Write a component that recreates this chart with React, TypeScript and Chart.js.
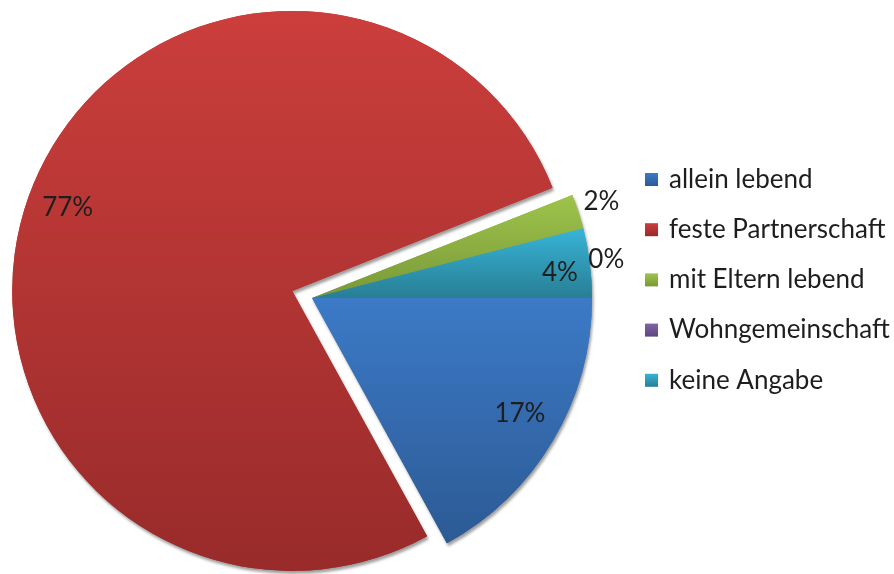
import React, { useEffect, useRef } from "react";
import { Chart, registerables } from "chart.js";

Chart.register(...registerables);

const CATEGORIES = [
  "allein lebend",
  "feste Partnerschaft",
  "mit Eltern lebend",
  "Wohngemeinschaft",
  "keine Angabe",
];
const VALUES = [17, 77, 2, 0, 4];
const VALUE_LABELS = ["17%", "77%", "2%", "0%", "4%"];
const EXPLODE = [0, 21, 0, 0, 0];
const TOP_COLORS = ["#3c7ac7", "#cb3e3c", "#9ec44b", "#8064a6", "#38b4d6"];
const BOTTOM_COLORS = ["#2c5a94", "#982b2a", "#7a9838", "#5c4680", "#287e95"];
const LABEL_RADIUS = [0.85, 0.855, 1.09, 1.06, 0.89];
const LABEL_ANGLE_SHIFT_DEG = [-1.5, 0.5, -0.5, 7, 1.4];

const RADIUS = 280;
const FONT_FAMILY = 'Lato, "Noto Sans", sans-serif';
const TEXT_COLOR = "#1e1e1e";

function sliceGradient(ctx: any) {
  const chart = ctx.chart;
  const area = chart.chartArea;
  const i = ctx.dataIndex ?? 0;
  if (!area) return TOP_COLORS[i];
  const total = VALUES.reduce((a, b) => a + b, 0);
  let start = 0;
  for (let k = 0; k < i; k++) start += (VALUES[k] / total) * Math.PI * 2;
  const end = start + (VALUES[i] / total) * Math.PI * 2;
  const mid = (start + end) / 2;
  const cy = (area.top + area.bottom) / 2 + Math.sin(mid) * EXPLODE[i];
  const ys = [cy, cy + RADIUS * Math.sin(start), cy + RADIUS * Math.sin(end)];
  for (const a of [Math.PI / 2, (3 * Math.PI) / 2, (5 * Math.PI) / 2]) {
    if (a > start && a < end) ys.push(cy + RADIUS * Math.sin(a));
  }
  const top = Math.min(...ys);
  let bottom = Math.max(...ys);
  if (bottom - top < 1) bottom = top + 1;
  const g = chart.ctx.createLinearGradient(0, top, 0, bottom);
  g.addColorStop(0, TOP_COLORS[i]);
  g.addColorStop(1, BOTTOM_COLORS[i]);
  return g;
}

const explodePlugin = {
  id: "explodeSlices",
  afterDatasetUpdate(chart: any, args: any) {
    const meta = args.meta;
    meta.data.forEach((el: any, i: number) => {
      const e = EXPLODE[i];
      if (!e) return;
      const mid = (el.startAngle + el.endAngle) / 2;
      el.x += Math.cos(mid) * e;
      el.y += Math.sin(mid) * e;
    });
  },
};

const shadowPlugin = {
  id: "pieShadow",
  beforeDatasetsDraw(chart: any) {
    const ctx = chart.ctx;
    const meta = chart.getDatasetMeta(0);
    ctx.save();
    ctx.shadowColor = "rgba(0,0,0,0.38)";
    ctx.shadowBlur = 3;
    ctx.shadowOffsetX = 1.5;
    ctx.shadowOffsetY = 3;
    meta.data.forEach((el: any) => el.draw(ctx));
    ctx.restore();
  },
};

const labelPlugin = {
  id: "sliceLabels",
  afterDatasetsDraw(chart: any) {
    const ctx = chart.ctx;
    const meta = chart.getDatasetMeta(0);
    ctx.save();
    ctx.font = `26px ${FONT_FAMILY}`;
    ctx.fillStyle = TEXT_COLOR;
    ctx.textAlign = "center";
    ctx.textBaseline = "middle";
    meta.data.forEach((el: any, i: number) => {
      const mid =
        (el.startAngle + el.endAngle) / 2 +
        (LABEL_ANGLE_SHIFT_DEG[i] * Math.PI) / 180;
      const r = el.outerRadius * LABEL_RADIUS[i];
      ctx.fillText(
        VALUE_LABELS[i],
        el.x + Math.cos(mid) * r,
        el.y + Math.sin(mid) * r
      );
    });
    ctx.restore();
  },
};

const legendPlugin = {
  id: "sideLegend",
  afterDraw(chart: any) {
    const ctx = chart.ctx;
    const labels: string[] = chart.data.labels;
    const boxX = 645;
    const box = 13;
    const textX = 669;
    const firstY = 179.5;
    const step = 50.2;
    ctx.save();
    ctx.font = `26px ${FONT_FAMILY}`;
    ctx.textAlign = "left";
    ctx.textBaseline = "middle";
    labels.forEach((label, i) => {
      const y = firstY + i * step;
      const g = ctx.createLinearGradient(0, y - box / 2, 0, y + box / 2);
      g.addColorStop(0, TOP_COLORS[i]);
      g.addColorStop(1, BOTTOM_COLORS[i]);
      ctx.fillStyle = g;
      ctx.fillRect(boxX, y - box / 2, box, box);
      ctx.fillStyle = TEXT_COLOR;
      ctx.fillText(label, textX, y);
    });
    ctx.restore();
  },
};

export default function App() {
  const canvasRef = useRef<HTMLCanvasElement | null>(null);

  useEffect(() => {
    document.body.style.margin = "0";
    const canvas = canvasRef.current;
    if (!canvas) return;
    const chart = new Chart(canvas, {
      type: "pie",
      data: {
        labels: CATEGORIES,
        datasets: [
          {
            data: VALUES,
            backgroundColor: sliceGradient as any,
            borderWidth: 0,
            clip: false as any,
          },
        ],
      },
      options: {
        responsive: false,
        animation: false,
        events: [],
        rotation: 90,
        radius: RADIUS,
        layout: { padding: { left: 0, right: 270, top: 22, bottom: 0 } },
        plugins: {
          legend: { display: false },
          tooltip: { enabled: false },
        },
      } as any,
      plugins: [explodePlugin, shadowPlugin, labelPlugin, legendPlugin],
    });
    return () => chart.destroy();
  }, []);

  return (
    <div style={{ width: 894, height: 574, background: "#ffffff" }}>
      <canvas ref={canvasRef} width={894} height={574} style={{ display: "block" }} />
    </div>
  );
}
